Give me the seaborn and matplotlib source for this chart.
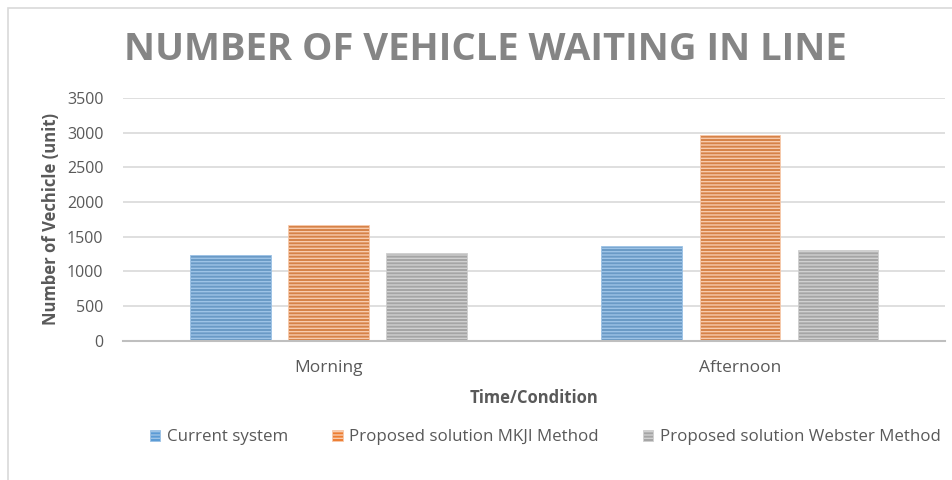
import pandas as pd
import matplotlib.pyplot as plt
import seaborn as sns
from matplotlib.patches import Rectangle

# %%
# values
periods = ["Morning", "Afternoon"]
methods = ["Current system", "Proposed solution MKJI Method", "Proposed solution Webster Method"]
current_system = [1240, 1360]
mkji_method = [1670, 2960]
webster_method = [1260, 1310]

colors = ["#5B9BD5", "#ED7D31", "#A5A5A5"]
hatch_colors = ["#9DC3E6", "#F8CBAD", "#D0D0D0"]

df = pd.DataFrame({
    "Time/Condition": periods * 3,
    "Method": [m for m in methods for _ in periods],
    "Value": current_system + mkji_method + webster_method,
})

# %%
sns.set_theme(style="white")
plt.rcParams["font.family"] = ["Open Sans", "DejaVu Sans"]
plt.rcParams["hatch.linewidth"] = 1.0

fig = plt.figure(figsize=(9.52, 4.8), dpi=100)
ax = fig.add_axes([0.129, 0.290, 0.864, 0.506])

sns.barplot(data=df, x="Time/Condition", y="Value", hue="Method",
            hue_order=methods, order=periods, palette=colors,
            width=0.715, gap=0.18, ax=ax, legend=False)

# Excel-like horizontal line texture
for container, hc in zip(ax.containers, hatch_colors):
    for bar in container:
        bar.set_hatch("-----")
        bar.set_edgecolor(hc)
        bar.set_linewidth(0.6)

ax.set_ylim(0, 3500)
ax.set_yticks(range(0, 3501, 500))
ax.yaxis.grid(True, color="#D9D9D9", linewidth=1.2)
ax.set_axisbelow(True)
for s in ["top", "right", "left"]:
    ax.spines[s].set_visible(False)
ax.spines["bottom"].set_color("#BFBFBF")
ax.spines["bottom"].set_linewidth(1.5)
ax.tick_params(axis="y", length=0, labelsize=11.5, labelcolor="#595959", pad=14)
ax.tick_params(axis="x", length=0, labelsize=12.5, labelcolor="#595959", pad=14)

ax.set_xlabel("Time/Condition", fontsize=12, fontweight="bold", color="#595959", labelpad=9)
ax.set_ylabel("Number of Vechicle (unit)", fontsize=12, fontweight="bold", color="#595959", labelpad=5)

fig.text(0.51, 0.895, "NUMBER OF VEHICLE WAITING IN LINE", ha="center", va="center",
         fontsize=27.5, fontweight="bold", color="#858585")

# legend
handles = [Rectangle((0, 0), 1, 1, facecolor=c, edgecolor=hc, hatch="-----", linewidth=0.6)
           for c, hc in zip(colors, hatch_colors)]
fig.legend(handles, methods, loc="center", bbox_to_anchor=(0.573, 0.089), ncol=3,
           frameon=False, fontsize=12.2, labelcolor="#595959", handlelength=0.6,
           handleheight=0.6, handletextpad=0.4, columnspacing=2.6)

# chart-area border
fig.add_artist(Rectangle((0.008, -0.05), 1.1, 1.033, transform=fig.transFigure,
                         fill=False, edgecolor="#D9D9D9", linewidth=1.2))

fig.savefig("out.png", dpi=100)
